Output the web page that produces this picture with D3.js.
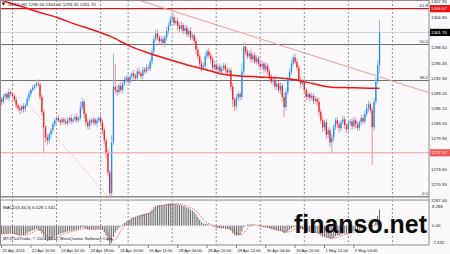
<!DOCTYPE html>
<html>
<head>
<meta charset="utf-8">
<script src="https://cdn.jsdelivr.net/npm/d3@7"></script>
<style>
html, body { margin: 0; padding: 0; background: #fff; }
svg { display: block; }
text { font-family: "Liberation Sans", Arial, sans-serif; }
</style>
</head>
<body>
<svg id="chart" width="450" height="254"></svg>
<script>
/* GOLD,H1 closes, one per bar (open = previous close) */
let firstOpen = 1288.0;
let closes = [
  1287.5,1288.5,1289.1,1288.3,1289.5,1289.1,1288.7,1287.9,1286.8,1286.2,
  1285.8,1286.6,1286.0,1286.8,1288.1,1289.1,1289.9,1290.4,1290.8,1291.2,
  1291.0,1288.5,1285.4,1282.3,1280.2,1279.6,1280.8,1281.7,1282.9,1283.7,
  1284.2,1283.7,1283.3,1283.9,1283.5,1283.1,1283.7,1284.2,1283.5,1283.9,
  1284.4,1283.7,1284.2,1286.4,1287.5,1285.0,1283.3,1282.5,1283.7,1283.3,
  1283.9,1283.1,1283.7,1284.2,1283.3,1281.7,1279.6,1277.1,1273.0,1268.8,
  1279.2,1290.6,1289.9,1289.5,1290.8,1289.9,1291.2,1292.0,1292.4,1291.6,
  1292.6,1293.3,1292.8,1292.4,1293.7,1293.3,1292.8,1294.1,1293.7,1294.5,
  1294.3,1295.7,1297.8,1300.3,1301.5,1300.7,1299.9,1300.3,1299.5,1300.7,
  1302.0,1303.2,1304.4,1304.8,1303.6,1304.0,1303.0,1302.4,1303.2,1302.0,
  1302.6,1301.3,1302.0,1300.7,1301.1,1299.9,1298.2,1296.8,1295.3,1294.5,
  1294.9,1296.8,1297.8,1297.0,1296.2,1294.5,1295.1,1294.1,1294.7,1293.7,
  1294.3,1294.9,1294.1,1293.5,1293.9,1290.6,1287.9,1286.6,1288.3,1289.1,
  1288.5,1293.7,1298.8,1297.8,1296.8,1297.4,1296.2,1297.0,1295.7,1296.4,
  1295.3,1294.7,1295.3,1294.1,1294.9,1293.7,1292.6,1291.6,1292.0,1290.6,
  1291.2,1289.9,1290.8,1288.5,1286.4,1289.5,1292.0,1293.7,1295.3,1296.6,
  1295.7,1294.5,1292.0,1291.2,1291.6,1289.9,1288.5,1289.1,1288.3,1288.7,
  1287.7,1288.1,1287.5,1285.4,1283.7,1282.3,1283.3,1280.8,1281.7,1279.2,
  1280.2,1282.3,1283.7,1282.9,1282.1,1283.3,1283.9,1282.7,1281.9,1283.1,
  1283.5,1282.5,1283.7,1282.9,1282.1,1283.3,1284.2,1283.5,1285.0,1286.2,
  1287.0,1285.8,1282.3,1287.5,1291.6,1295.0,1301.7
];
/* upper and lower shadow lengths */
let wickUp = [
  .4,.6,.3,.5,.7,.4,.3,.5,.6,.4, .5,.3,.6,.4,.5,.7,.3,.6,.4,.8,
  .9,.4,.6,.5,.3,.7,.5,.4,.6,.5, .4,.6,.3,.5,.4,.6,.5,.3,.7,.4,
  .5,.8,.4,1.2,.9,.5,.4,.6,.5,.4, .6,.3,.5,.4,.7,.5,.6,.4,.8,.5,
  1.5,6.8,4.7,.9,.6,.8,.5,.7,.6,.5, .6,.4,.7,.5,.6,.8,.4,.6,.5,.7,
  .6,.5,.8,.7,.6,.9,.5,.7,.6,.5, .8,.6,.7,.9,.6,.5,.7,.6,.8,.5,
  .6,.7,.5,.8,.6,.5,.7,.6,.5,.7, .6,.8,.5,.7,.6,.5,.8,.4,.6,.5,
  .7,.6,.5,.4,.6,.5,.7,.6,.8,.5, .6,1.7,.9,.7,.5,.6,.8,.5,.7,.6,
  .5,.7,.6,.4,.6,.5,.7,.6,.5,.8, .6,.5,.7,.6,.8,.9,.7,.6,.8,.5,
  .7,.6,.5,.8,.6,.7,.5,.6,.4,.7, .5,.6,.4,.7,.6,.8,.5,.7,.6,.5,
  .8,.6,.5,.7,.6,.5,.8,.6,.4,.7, .5,.6,.7,.5,.6,.4,.7,.6,.8,.9,
  .7,.5,.6,.8,.9,1.0,2.6
];
let wickDn = [
  .8,.5,.6,.4,.7,.5,.6,.4,.7,.6, .9,.5,.7,.6,.4,.5,.6,.3,.5,.4,
  .5,.6,.8,5.3,1.0,.9,.7,.8,.6,.5, .6,.4,.7,.5,.6,.4,.5,.7,.6,.4,
  .5,.6,.4,.5,.7,.9,.8,.6,.7,.5, .6,.4,.7,.5,.6,.8,.9,1.0,.8,.7,
  .6,.6,.7,.9,.6,.5,.7,.4,.6,.5, .6,.5,.7,.4,.6,.5,.7,.6,.4,.5,
  .6,.5,.7,.8,.5,.6,.7,.5,.6,.8, .5,.6,.4,.7,.6,.5,.8,.6,.5,.7,
  .6,.5,.7,.6,.5,.8,.9,.7,.6,.8, .6,.7,.5,.6,.8,.7,.5,.6,.7,.5,
  .6,.5,.7,.6,.5,.9,1.5,1.0,.7,.6, .8,.6,.5,.7,.6,.5,.7,.6,.5,.6,
  .7,.5,.6,.8,.5,.7,.6,.5,.8,.6, .7,.6,.8,.9,2.0,.7,.6,.5,.7,.6,
  .5,.7,.6,.8,.5,.7,.9,.6,.8,.5, .7,.6,.8,.9,.7,1.0,.8,.9,.7,1.0,
  2.2,.8,.6,.7,.9,.6,.5,.8,.7,.6, .5,.7,.6,.8,.6,.5,.7,.6,.5,.6,
  .7,.6,7.7,.8,.6,.5,1.7
];
/* MACD(5,34,5) main values per bar */
let macdMain = [
  -3.1,-3.0,-2.9,-3.0,-2.8,-2.8,-2.9,-3.1,-3.4,-3.6,
  -3.7,-3.5,-3.5,-3.3,-2.9,-2.5,-2.1,-1.8,-1.5,-1.2,
  -1.6,-2.0,-2.9,-4.1,-5.3,-5.8,-5.6,-5.2,-4.7,-4.2,
  -3.8,-3.4,-3.1,-2.8,-2.6,-2.4,-2.2,-2.0,-1.9,-1.8,
  -1.6,-1.5,-1.4,-1.0,-0.6,-0.8,-1.2,-1.5,-1.5,-1.5,
  -1.4,-1.4,-1.3,-1.2,-1.1,-1.6,-2.5,-3.8,-5.6,-7.4,
  -6.5,-4.2,-2.6,-1.6,-0.8,-0.3,0.4,1.0,1.6,1.9,
  2.4,2.9,3.1,3.3,3.7,3.9,4.0,4.3,4.4,4.6,
  4.7,5.2,6.0,6.9,7.4,7.6,7.7,7.8,7.7,7.8,
  8.0,8.2,8.3,8.3,8.2,8.1,7.9,7.7,7.6,7.4,
  7.2,6.8,6.5,6.0,5.6,5.0,4.2,3.2,2.2,1.3,
  0.8,0.6,0.6,0.4,0.1,-0.3,-0.4,-0.7,-0.8,-1.0,
  -1.0,-0.9,-1.0,-1.1,-1.2,-1.9,-2.9,-3.6,-3.7,-3.6,
  -3.4,-2.2,-0.6,0.2,0.4,0.5,0.4,0.3,0.1,0.0,
  -0.2,-0.4,-0.4,-0.6,-0.6,-0.8,-1.0,-1.3,-1.4,-1.7,
  -1.8,-2.0,-2.0,-2.4,-2.9,-2.6,-2.1,-1.6,-1.0,-0.5,
  -0.4,-0.5,-0.9,-1.2,-1.3,-1.7,-2.1,-2.2,-2.4,-2.5,
  -2.7,-2.7,-2.8,-3.2,-3.7,-4.2,-4.2,-4.6,-4.6,-5.0,
  -4.9,-4.5,-4.0,-3.8,-3.7,-3.4,-3.1,-3.0,-3.0,-2.7,
  -2.5,-2.4,-2.1,-1.9,-1.9,-1.6,-1.2,-1.0,-0.6,0.0,
  0.4,0.4,-0.6,0.3,1.9,3.6,6.0
];
/* long moving average, read at every 10th bar */
let maBars = [0,10,20,30,40,50,60,70,80,90,100,110,120,130,140,150,160,170,180,190,200,206];
let maValues = [1308.3,1307.1,1305.9,1304.8,1303.4,1302.2,1300.8,1298.9,1297.5,1296.3,1295.2,
  1294.2,1293.2,1292.8,1292.6,1292.4,1292.0,1291.2,1290.5,1290.4,1290.3,1290.3];

let priceTicks = ["1307.95","1304.80","1298.60","1295.45","1292.30","1289.20","1286.10",
  "1283.00","1279.90","1273.65","1270.55","1267.40"];
let macdTicks = ["8.286","0.00","-7.432"];
let dayBars = [6,30,54,69,93,117,141,165,189,213];
let timeBars = [0,16,32,48,64,80,96,112,128,144,160,176,192];
let timeLabels = ["21 Apr 2014","22 Apr 10:00","23 Apr 02:00","23 Apr 18:00","24 Apr 10:00",
  "25 Apr 11:00","28 Apr 04:00","28 Apr 20:00","29 Apr 12:00","30 Apr 04:00","30 Apr 20:00",
  "1 May 12:00","2 May 04:00"];
let fibLevels = [0, 38.2, 50.0, 61.8];
let fibLow = 1268.07, fibHigh = 1330.37;
let trendBars = [75, 233.5], trendPrices = [1308.3, 1289.3];
let fibBaseBars = [15.5, 58], fibBasePrices = [1286.6, 1268.0];
let lastPrice = 1301.70, redLevel = 1306.57, supportLevel = 1277.07;
let header = "GOLD,H1  1295.00 1304.30 1293.30 1301.70";

/* layout */
let right = 429, mainTop = 1, mainBottom = 199.5, subTop = 200.5, subBottom = 245;
let svg = d3.select("#chart");
let x = d3.scaleLinear().domain([0, 213]).range([1.5, 392.4]);
let y = d3.scaleLinear().domain([1267.40, 1307.95]).range([200, 1.9]);
let ym = d3.scaleLinear().domain([-7.432, 8.286]).range([245.5, 203.5]);

svg.append("rect").attr("width", 450).attr("height", 254).attr("fill", "#fbf9fb");
let defs = svg.append("defs");
defs.append("clipPath").attr("id", "clipMain").append("rect")
  .attr("x", 0).attr("y", mainTop).attr("width", right).attr("height", mainBottom - mainTop);
defs.append("clipPath").attr("id", "clipSub").append("rect")
  .attr("x", 0).attr("y", subTop).attr("width", right).attr("height", subBottom - subTop);

let main = svg.append("g").attr("clip-path", "url(#clipMain)");
let sub = svg.append("g").attr("clip-path", "url(#clipSub)");

// day separators (dashed grid)
[main, sub].forEach(function(g) {
  g.selectAll(".vgrid").data(dayBars).enter().append("line")
    .attr("x1", d => x(d)).attr("x2", d => x(d)).attr("y1", 0).attr("y2", 254)
    .attr("stroke", "#8a8680").attr("stroke-width", 0.9).attr("stroke-dasharray", "2,2");
});

// fibonacci levels
let fibY = lv => y(fibLow + (fibHigh - fibLow) * lv / 100);
main.selectAll(".fib").data(fibLevels).enter().append("line")
  .attr("x1", 0).attr("x2", right).attr("y1", d => fibY(d)).attr("y2", d => fibY(d))
  .attr("stroke", d => d === 61.8 ? "#b81c1c" : (d === 0 ? "#8c8c8c" : "#6e6e6e"))
  .attr("stroke-width", d => d === 0 ? 1.6 : 1.1);
svg.selectAll(".fibLabel").data(fibLevels).enter().append("text")
  .attr("x", 428).attr("y", d => fibY(d) - 1.6).attr("text-anchor", "end")
  .attr("font-size", 4.4).attr("fill", "#333").text(d => d.toFixed(1));

// bid line and support line
main.append("line").attr("x1", 0).attr("x2", right).attr("y1", y(lastPrice)).attr("y2", y(lastPrice))
  .attr("stroke", "#c8c8c8").attr("stroke-width", 0.8);
svg.append("line").attr("x1", 0).attr("x2", 450).attr("y1", y(supportLevel)).attr("y2", y(supportLevel))
  .attr("stroke", "#f2a0a0").attr("stroke-width", 1.2);

// candles
let bars = closes.map(function(c, i) {
  let o = i === 0 ? firstOpen : closes[i - 1];
  return { i: i, o: o, c: c, h: Math.max(o, c) + wickUp[i], l: Math.min(o, c) - wickDn[i] };
});
let candle = main.selectAll(".candle").data(bars).enter().append("g");
candle.append("line")
  .attr("x1", d => x(d.i)).attr("x2", d => x(d.i))
  .attr("y1", d => y(d.h)).attr("y2", d => y(d.l))
  .attr("stroke", d => d.c >= d.o ? "#86bff5" : "#f59090").attr("stroke-width", 1);
candle.append("rect")
  .attr("x", d => x(d.i) - 0.65).attr("width", 1.3)
  .attr("y", d => y(Math.max(d.o, d.c)))
  .attr("height", d => Math.max(0.8, Math.abs(y(d.o) - y(d.c))))
  .attr("fill", d => d.c >= d.o ? "#1e8ef5" : "#f81c1c");

// moving average
let maLine = d3.line().x((d, i) => x(maBars[i])).y(d => y(d)).curve(d3.curveMonotoneX);
main.append("path").datum(maValues).attr("d", maLine)
  .attr("fill", "none").attr("stroke", "#f01414").attr("stroke-width", 1.5);

// trend line and fibo base line
main.append("line")
  .attr("x1", x(trendBars[0])).attr("y1", y(trendPrices[0]))
  .attr("x2", x(trendBars[1])).attr("y2", y(trendPrices[1]))
  .attr("stroke", "#f49a9a").attr("stroke-width", 1);
main.append("line")
  .attr("x1", x(fibBaseBars[0])).attr("y1", y(fibBasePrices[0]))
  .attr("x2", x(fibBaseBars[1])).attr("y2", y(fibBasePrices[1]))
  .attr("stroke", "#f29a9a").attr("stroke-width", 0.9).attr("stroke-dasharray", "1.2,1.6");

// MACD window
sub.selectAll(".hist").data(macdMain).enter().append("line")
  .attr("x1", (d, i) => x(i)).attr("x2", (d, i) => x(i))
  .attr("y1", ym(0)).attr("y2", d => ym(d))
  .attr("stroke", "#6c6c6c").attr("stroke-width", 1);
let signal = macdMain.map(function(v, i) {
  let s = macdMain.slice(Math.max(0, i - 4), i + 1);
  return d3.mean(s);
});
sub.append("path").datum(signal)
  .attr("d", d3.line().x((d, i) => x(i)).y(d => ym(d)))
  .attr("fill", "none").attr("stroke", "#f03030").attr("stroke-width", 0.9)
  .attr("stroke-dasharray", "1,1.2");

// frames
let frame = svg.append("g").attr("stroke", "#8c8c8c").attr("stroke-width", 1).attr("fill", "none");
frame.append("line").attr("x1", 0).attr("x2", right).attr("y1", 0.5).attr("y2", 0.5);
frame.append("line").attr("x1", 0).attr("x2", right).attr("y1", 200).attr("y2", 200);
frame.append("line").attr("x1", 0).attr("x2", right).attr("y1", subBottom).attr("y2", subBottom);
frame.append("line").attr("x1", 0.5).attr("x2", 0.5).attr("y1", 0).attr("y2", subBottom);
frame.append("line").attr("x1", right).attr("x2", right).attr("y1", 0).attr("y2", subBottom);

// price axis
svg.selectAll(".ptick").data(priceTicks).enter().append("text")
  .attr("x", 431).attr("y", d => y(+d)).attr("dy", "0.35em")
  .attr("font-size", 4.4).attr("fill", "#222").text(d => d);
[[redLevel, "#f01010"], [lastPrice, "#000"], [supportLevel, "#f05858"]].forEach(function(p) {
  svg.append("rect").attr("x", 430).attr("y", y(p[0]) - 3.6).attr("width", 20).attr("height", 7.2).attr("fill", p[1]);
  svg.append("text").attr("x", 431).attr("y", y(p[0])).attr("dy", "0.35em")
    .attr("font-size", 4.4).attr("fill", "#fff").text(p[0].toFixed(2));
});
svg.selectAll(".mtick").data(macdTicks).enter().append("text")
  .attr("x", 432).attr("y", d => Math.min(Math.max(ym(+d), 206), 242)).attr("dy", "0.35em")
  .attr("font-size", 4.4).attr("fill", "#222").text(d => d);

// time axis
svg.selectAll(".ttick").data(timeBars).enter().append("line")
  .attr("x1", d => x(d)).attr("x2", d => x(d)).attr("y1", subBottom).attr("y2", subBottom + 3)
  .attr("stroke", "#555").attr("stroke-width", 0.7);
svg.selectAll(".tlabel").data(timeBars).enter().append("text")
  .attr("x", d => x(d) + 1).attr("y", 251.8)
  .attr("font-size", 4.1).attr("fill", "#222").text((d, i) => timeLabels[i]);

// texts
svg.append("path").attr("d", "M1.5,2.5 L5.5,2.5 L3.5,5.5 Z").attr("fill", "#222");
svg.append("text").attr("x", 8).attr("y", 5.6).attr("font-size", 4.4).attr("fill", "#222").text(header);
svg.append("text").attr("x", 3).attr("y", 208.6).attr("font-size", 4.4).attr("fill", "#222")
  .text("MACD(5,34,5) 6.028 1.541");
svg.append("text").attr("x", 3).attr("y", 239.5).attr("font-size", 4.3).attr("fill", "#222")
  .text("MT4TickTrade, \u00a9 2001-2014, MetaQuotes Software Corp.");

// watermark, kept left of the price scale
svg.append("text").attr("x", 294).attr("y", 232.5)
  .attr("font-size", 26).attr("font-weight", "bold").attr("fill", "#0c0c0c")
  .attr("textLength", 133).attr("lengthAdjust", "spacingAndGlyphs")
  .text("finanso.net");
</script>
</body>
</html>
